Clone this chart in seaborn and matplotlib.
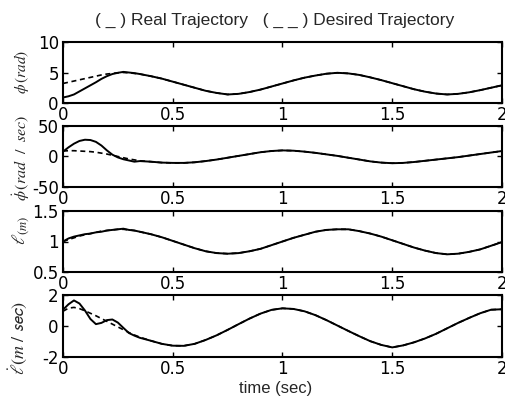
import matplotlib
matplotlib.use("Agg")
import matplotlib.pyplot as plt
import pandas as pd
import seaborn as sns

# ---- data: sampled trajectories (time in seconds) ----
time = [0, .025, .05, .075, .1, .125, .15, .175, .2, .225, .25, .275, .3, .325, .35,
        .4, .45, .5, .55, .6, .65, .7, .75, .8, .85, .9, .95, 1.0, 1.05, 1.1, 1.15,
        1.2, 1.25, 1.3, 1.35, 1.4, 1.45, 1.5, 1.55, 1.6, 1.65, 1.7, 1.75, 1.8, 1.85,
        1.9, 1.95, 2.0]

phi_desired = [3.2, 3.4, 3.6, 3.8, 4.0, 4.2, 4.4, 4.6, 4.75, 4.85, 4.95, 5.0, 4.95, 4.85, 4.75,
               4.4, 4.0, 3.5, 3.0, 2.5, 2.0, 1.65, 1.4, 1.5, 1.8, 2.2, 2.7, 3.2, 3.7, 4.15, 4.5,
               4.8, 4.95, 4.85, 4.6, 4.2, 3.75, 3.25, 2.75, 2.25, 1.85, 1.55, 1.4, 1.5, 1.75,
               2.1, 2.5, 2.9]
phi_real = [0.9, 1.1, 1.4, 1.9, 2.4, 2.9, 3.4, 3.95, 4.4, 4.75, 4.95, 5.1, 5.0, 4.9, 4.75,
            4.4, 4.0, 3.5, 3.0, 2.5, 2.0, 1.65, 1.4, 1.5, 1.8, 2.2, 2.7, 3.2, 3.7, 4.15, 4.5,
            4.8, 4.95, 4.85, 4.6, 4.2, 3.75, 3.25, 2.75, 2.25, 1.85, 1.55, 1.4, 1.5, 1.75,
            2.1, 2.5, 2.9]

phidot_desired = [9, 9.5, 9.5, 9, 8.5, 8, 7, 5.5, 4, 2, 0, -2, -4, -5.5, -7,
                  -8.5, -10, -10.5, -10.5, -9.5, -7.5, -5, -2, 1, 4, 7, 9, 10, 9.5, 8, 6,
                  3.5, 1, -2, -5, -8, -10, -11, -10.5, -9, -7, -5, -3, -1, 1.5,
                  4, 6.5, 9]
phidot_real = [8, 15, 21, 25.5, 27.5, 27, 24, 18, 10, 3, -1.5, -4.5, -6.5, -8.5, -7.5,
               -8.5, -10, -10.5, -10.5, -9.5, -7.5, -5, -2, 1, 4, 7, 9, 10, 9.5, 8, 6,
               3.5, 1, -2, -5, -8, -10, -11, -10.5, -9, -7, -5, -3, -1, 1.5,
               4, 6.5, 9]

len_desired = [1.0, 1.03, 1.06, 1.09, 1.11, 1.13, 1.15, 1.17, 1.18, 1.19, 1.2, 1.2, 1.19, 1.18, 1.16,
               1.12, 1.07, 1.01, 0.95, 0.89, 0.84, 0.81, 0.8, 0.81, 0.84, 0.88, 0.94, 1.0, 1.06, 1.11, 1.16,
               1.19, 1.2, 1.2, 1.17, 1.13, 1.08, 1.02, 0.96, 0.9, 0.85, 0.81, 0.79, 0.8, 0.83,
               0.87, 0.93, 0.99]
len_real = [1.0, 1.05, 1.08, 1.1, 1.12, 1.13, 1.15, 1.16, 1.18, 1.19, 1.2, 1.21, 1.19, 1.18, 1.16,
            1.12, 1.07, 1.01, 0.95, 0.89, 0.84, 0.81, 0.8, 0.81, 0.84, 0.88, 0.94, 1.0, 1.06, 1.11, 1.16,
            1.19, 1.2, 1.2, 1.17, 1.13, 1.08, 1.02, 0.96, 0.9, 0.85, 0.81, 0.79, 0.8, 0.83,
            0.87, 0.93, 0.99]

lendot_desired = [0.95, 1.15, 1.2, 1.12, 0.98, 0.82, 0.66, 0.48, 0.3, 0.12, -0.06, -0.24, -0.42, -0.58, -0.72,
                  -0.95, -1.15, -1.27, -1.28, -1.15, -0.9, -0.6, -0.25, 0.12, 0.48, 0.8, 1.04, 1.14, 1.1, 0.95, 0.7,
                  0.38, 0.03, -0.32, -0.66, -0.98, -1.22, -1.38, -1.25, -1.05, -0.8, -0.5, -0.15, 0.2, 0.52,
                  0.82, 1.05, 1.08]
lendot_real = [1.05, 1.4, 1.65, 1.45, 1.0, 0.45, 0.12, 0.2, 0.38, 0.42, 0.22, -0.12, -0.45, -0.62, -0.76,
               -0.95, -1.15, -1.27, -1.28, -1.15, -0.9, -0.6, -0.25, 0.12, 0.48, 0.8, 1.04, 1.14, 1.1, 0.95, 0.7,
               0.38, 0.03, -0.32, -0.66, -0.98, -1.22, -1.38, -1.25, -1.05, -0.8, -0.5, -0.15, 0.2, 0.52,
               0.82, 1.05, 1.08]

x_ticks = [0, 0.5, 1, 1.5, 2]
x_tick_labels = ["0", "0.5", "1", "1.5", "2"]
y_limits = [(0, 10), (-50, 50), (0.5, 1.5), (-2, 2)]
y_ticks = [[0, 5, 10], [-50, 0, 50], [0.5, 1, 1.5], [-2, 0, 2]]
y_tick_labels = [["0", "5", "10"], ["-50", "0", "50"], ["0.5", "1", "1.5"], ["-2", "0", "2"]]
y_labels = [r"$\phi\,(rad)$", r"$\dot{\phi}\,(rad\ \ /\ \ sec)$",
            r"$\ell_{(m)}$", r"$\dot{\ell}(m\ /\ \mathsf{sec})$"]
title = "( _ ) Real Trajectory   ( _ _ ) Desired Trajectory"
x_label = "time (sec)"

# ---- style ----
sns.set_style("ticks")
plt.rcParams["font.family"] = ["DejaVu Sans"]
plt.rcParams["mathtext.fontset"] = "stix"

W, H = 506, 398
fig = plt.figure(figsize=(W / 100, H / 100), dpi=100)
fig.patch.set_facecolor("white")

left, right = 63, 502
boxes = [(42, 103), (126, 187), (211, 272), (295, 357)]
label_pos = [(22, 72), (21, 158), (21, 230), (18, 338)]
label_size = [11, 11.5, 13, 13]

series = [(phi_real, phi_desired), (phidot_real, phidot_desired),
          (len_real, len_desired), (lendot_real, lendot_desired)]

for i, ((top, bot), (real, desired)) in enumerate(zip(boxes, series)):
    ax = fig.add_axes([left / W, 1 - bot / H, (right - left) / W, (bot - top) / H])
    df = pd.DataFrame({"t": time, "real": real, "desired": desired})
    sns.lineplot(data=df, x="t", y="desired", ax=ax, color="black",
                 linewidth=1.2, linestyle=(0, (3.0, 2.2)))
    sns.lineplot(data=df, x="t", y="real", ax=ax, color="black", linewidth=1.4)
    ax.set_xlim(0, 2)
    ax.set_ylim(*y_limits[i])
    ax.set_xticks(x_ticks)
    ax.set_xticklabels(x_tick_labels)
    ax.set_yticks(y_ticks[i])
    ax.set_yticklabels(y_tick_labels[i])
    ax.set_xlabel("")
    ax.set_ylabel("")
    for s in ax.spines.values():
        s.set_visible(True)
        s.set_linewidth(1.5)
        s.set_color("black")
    ax.tick_params(axis="both", direction="in", length=3.5, width=1.0,
                   top=True, right=True, labelsize=12, colors="black")
    ax.tick_params(axis="x", pad=2)
    ax.tick_params(axis="y", pad=3)
    lx, ly = label_pos[i]
    fig.text(lx / W, 1 - ly / H, y_labels[i], rotation=90,
             ha="center", va="center", fontsize=label_size[i])

fig.text(275 / W, 1 - 20 / H, title, ha="center", va="center",
         fontsize=12.5, family="Liberation Sans")
fig.text(276 / W, 1 - 389 / H, x_label, ha="center", va="center",
         fontsize=12, family="Liberation Sans")

fig.savefig("out.png", dpi=100, facecolor="white")
